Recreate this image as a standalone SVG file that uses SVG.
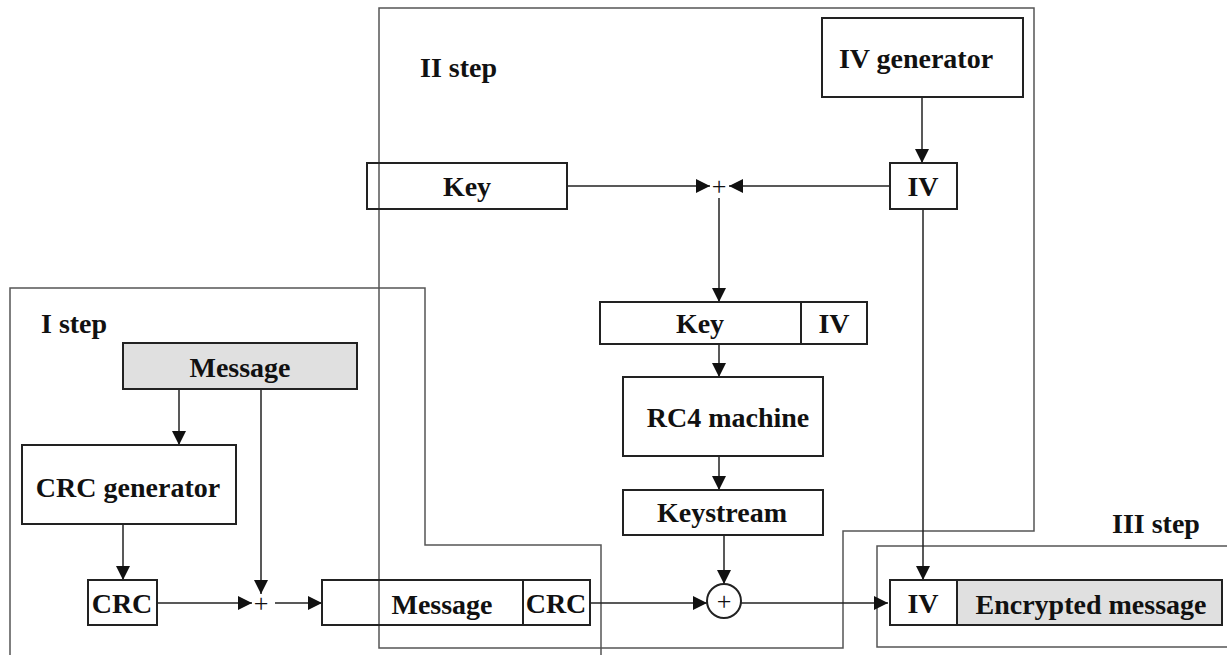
<svg xmlns="http://www.w3.org/2000/svg" width="1227" height="655" viewBox="0 0 1227 655">
<style>
.frame{fill:none;stroke:#555;stroke-width:1.5}
.box{fill:none;stroke:#222;stroke-width:2}
.gray{fill:#e0e0e0;stroke:#222;stroke-width:2}
.ln{fill:none;stroke:#222;stroke-width:1.5}
text{font-family:"Liberation Serif","Times New Roman",serif;font-weight:bold;font-size:28px;fill:#111}
.c{text-anchor:middle}
.p{font-weight:normal;font-size:26px}
</style>
<defs>
<marker id="ah2" viewBox="0 0 14 14" refX="14" refY="7" markerWidth="14" markerHeight="14" markerUnits="userSpaceOnUse" orient="auto">
<path d="M0,0 L14,7 L0,14 z" fill="#111"/>
</marker>
</defs>
<rect width="1227" height="655" fill="#fff"/>
<g id="frames">
<path class="frame" d="M379,8 H1034 V531 H843 V648 H379 Z"/>
<path class="frame" d="M10,655 V288 H425 V545 H601 V655"/>
<path class="frame" d="M1227,546 H877 V647 H1227"/>
<text x="420" y="77">II step</text>
<text x="41" y="333">I step</text>
<text x="1112" y="533">III step</text>
</g>
<g id="connectors">
<line class="ln" x1="922" y1="97" x2="922" y2="163" marker-end="url(#ah2)"/>
<line class="ln" x1="567" y1="186" x2="710" y2="186" marker-end="url(#ah2)"/>
<line class="ln" x1="890" y1="186" x2="729" y2="186" marker-end="url(#ah2)"/>
<line class="ln" x1="719" y1="198" x2="719" y2="302" marker-end="url(#ah2)"/>
<line class="ln" x1="719" y1="344" x2="719" y2="377" marker-end="url(#ah2)"/>
<line class="ln" x1="719" y1="456" x2="719" y2="490" marker-end="url(#ah2)"/>
<line class="ln" x1="724" y1="535" x2="724" y2="584" marker-end="url(#ah2)"/>
<line class="ln" x1="923" y1="209" x2="923" y2="580" marker-end="url(#ah2)"/>
<line class="ln" x1="590" y1="603" x2="707" y2="603" marker-end="url(#ah2)"/>
<line class="ln" x1="741" y1="603" x2="888" y2="603" marker-end="url(#ah2)"/>
<line class="ln" x1="157" y1="603" x2="252" y2="603" marker-end="url(#ah2)"/>
<line class="ln" x1="275" y1="603" x2="322" y2="603" marker-end="url(#ah2)"/>
<line class="ln" x1="179" y1="389" x2="179" y2="445" marker-end="url(#ah2)"/>
<line class="ln" x1="261" y1="389" x2="261" y2="594" marker-end="url(#ah2)"/>
<line class="ln" x1="123" y1="524" x2="123" y2="580" marker-end="url(#ah2)"/>
<text x="719" y="195" class="c p">+</text>
<text x="261" y="612" class="c p">+</text>
<circle cx="724" cy="601" r="17" fill="#fff" stroke="#222" stroke-width="2"/>
<text x="724" y="610" class="c p">+</text>
</g>
<g id="iv-generator"><rect class="box" x="822" y="18" width="201" height="79"/><text class="c" x="916" y="68">IV generator</text></g>
<g id="iv-top"><rect class="box" x="890" y="163" width="67" height="46"/><text class="c" x="923" y="196">IV</text></g>
<g id="key-top"><rect class="box" x="367" y="163" width="200" height="46"/><text class="c" x="467" y="196">Key</text></g>
<g id="key-iv"><rect class="box" x="600" y="302" width="267" height="42"/><line class="ln" style="stroke-width:2" x1="801" y1="302" x2="801" y2="344"/><text class="c" x="700" y="333">Key</text><text class="c" x="834" y="333">IV</text></g>
<g id="rc4"><rect class="box" x="623" y="377" width="200" height="79"/><text class="c" x="728" y="427">RC4  machine</text></g>
<g id="keystream"><rect class="box" x="623" y="490" width="200" height="45"/><text class="c" x="722" y="522">Keystream</text></g>
<g id="message-top"><rect class="gray" x="123" y="343" width="234" height="46"/><text class="c" x="240" y="377">Message</text></g>
<g id="crc-generator"><rect class="box" x="22" y="445" width="214" height="79"/><text class="c" x="128" y="497">CRC generator</text></g>
<g id="crc"><rect class="box" x="88" y="580" width="69" height="45"/><text class="c" x="122" y="613">CRC</text></g>
<g id="message-crc"><rect class="box" x="322" y="580" width="268" height="45"/><line class="ln" style="stroke-width:2" x1="523" y1="580" x2="523" y2="625"/><text class="c" x="442" y="614">Message</text><text class="c" x="556" y="613">CRC</text></g>
<g id="encrypted"><rect class="box" x="890" y="580" width="67" height="45"/><rect class="gray" x="957" y="580" width="265" height="45"/><text class="c" x="923" y="613">IV</text><text class="c" x="1091" y="614">Encrypted message</text></g>
</svg>
